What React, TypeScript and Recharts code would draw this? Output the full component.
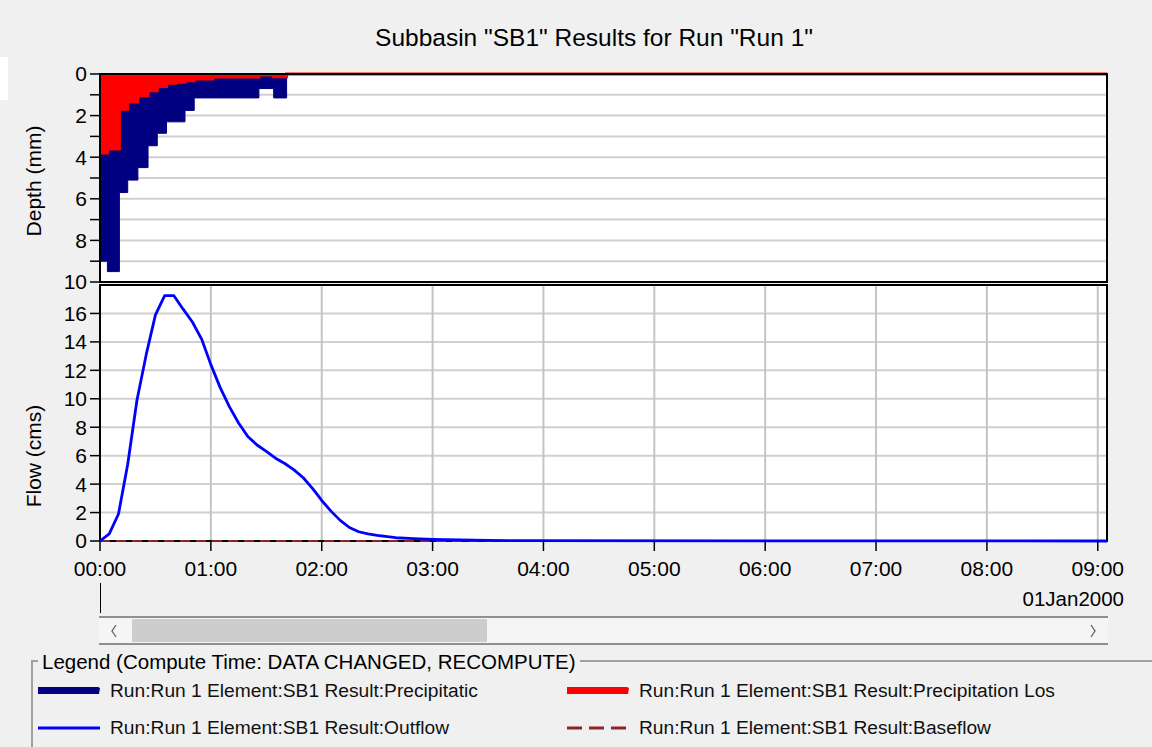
import React from "react";
import {
  ComposedChart,
  Area,
  Line,
  XAxis,
  YAxis,
  CartesianGrid,
  ReferenceArea,
} from "recharts";

// time in minutes from 00:00, 01Jan2000
const precipStart = [0, 4, 10.5, 15, 20.5, 26, 31, 36, 46, 51, 86, 94, 101, 545];
const precipDepth = [9.0, 9.5, 5.7, 5.1, 4.5, 3.45, 2.85, 2.3, 1.75, 1.15, 0.7, 1.15, 0, 0];

const lossStart = [0, 4, 10.5, 15, 20.5, 26, 31, 36, 41, 46, 51, 61, 86, 94, 101, 545];
const lossDepth = [3.8, 3.6, 1.7, 1.35, 1.05, 0.8, 0.6, 0.45, 0.4, 0.32, 0.24, 0.15, 0.05, 0.13, 0, 0];

const outflowTime = [
  0, 5, 10, 15, 20, 25, 30, 35, 40, 45, 50, 55, 60, 65, 70, 75, 80, 85, 90, 95, 100,
  105, 110, 115, 120, 125, 130, 135, 140, 145, 150, 160, 170, 180, 195, 210, 225, 545,
];
const outflowCms = [
  0, 0.5, 1.9, 5.4, 9.9, 13.1, 15.9, 17.25, 17.25, 16.3, 15.4, 14.2, 12.4, 10.8, 9.45,
  8.3, 7.35, 6.75, 6.3, 5.82, 5.45, 5.0, 4.45, 3.7, 2.85, 2.1, 1.45, 0.95, 0.65, 0.5,
  0.4, 0.23, 0.17, 0.12, 0.08, 0.05, 0.02, 0,
];

const baseflowTime = [0, 545];
const baseflowCms = [0, 0];

const hourTicks = [0, 60, 120, 180, 240, 300, 360, 420, 480, 540];
const depthTicks = [0, 1, 2, 3, 4, 5, 6, 7, 8, 9, 10];
const flowTicks = [0, 2, 4, 6, 8, 10, 12, 14, 16];

const legendItems = [
  { name: "Run:Run 1 Element:SB1 Result:Precipitatic", color: "#000080", kind: "bar" },
  { name: "Run:Run 1 Element:SB1 Result:Precipitation Los", color: "#FF0000", kind: "bar" },
  { name: "Run:Run 1 Element:SB1 Result:Outflow", color: "#0000FF", kind: "line" },
  { name: "Run:Run 1 Element:SB1 Result:Baseflow", color: "#8B2525", kind: "dash" },
];

const X_MAX = 545;
const FONT = "'Liberation Sans', Arial, sans-serif";

// value of a step series at time t
const stepAt = (starts: number[], vals: number[], t: number) => {
  let v = 0;
  for (let i = 0; i < starts.length; i++) if (starts[i] <= t) v = vals[i];
  return v;
};

const depthTimes = Array.from(new Set([...precipStart, ...lossStart])).sort((a, b) => a - b);
const depthRows = depthTimes.map((t) => ({
  t,
  precip: stepAt(precipStart, precipDepth, t),
  loss: stepAt(lossStart, lossDepth, t),
}));

const flowTimes = Array.from(new Set([...outflowTime, ...baseflowTime])).sort((a, b) => a - b);
const flowRows = flowTimes.map((t) => {
  const oi = outflowTime.indexOf(t);
  const bi = baseflowTime.indexOf(t);
  return {
    t,
    outflow: oi >= 0 ? outflowCms[oi] : undefined,
    baseflow: bi >= 0 ? baseflowCms[bi] : undefined,
  };
});

const fmtHour = (m: number) => `${String(Math.round(m / 60)).padStart(2, "0")}:00`;

const tickStyle = { fontSize: 21, fill: "#000", fontFamily: FONT };

const Swatch = ({ kind, color }: { kind: string; color: string }) => (
  <svg width={62} height={12} style={{ display: "block" }}>
    {kind === "bar" && <polygon points="0,2 60,2 62,3 61,9 0,9" fill={color} />}
    {kind === "line" && <line x1={0} x2={62} y1={6} y2={6} stroke={color} strokeWidth={3} />}
    {kind === "dash" && (
      <line x1={0} x2={62} y1={6} y2={6} stroke={color} strokeWidth={3} strokeDasharray="15 7" />
    )}
  </svg>
);

const Chevron = ({ dir }: { dir: "l" | "r" }) => (
  <svg width={8} height={14} style={{ display: "block" }}>
    <polyline
      points={dir === "l" ? "6,1 2,7 6,13" : "2,1 6,7 2,13"}
      fill="none"
      stroke="#606060"
      strokeWidth={1.3}
    />
  </svg>
);

export default function App() {
  return (
    <div
      style={{
        position: "absolute",
        left: 0,
        top: 0,
        width: 1152,
        height: 747,
        background: "#F0F0F0",
        fontFamily: FONT,
        overflow: "hidden",
      }}
    >
      <div style={{ position: "absolute", left: 0, top: 57, width: 8, height: 43, background: "#fff" }} />

      <div
        style={{
          position: "absolute",
          left: 0,
          width: 1188,
          top: 24,
          textAlign: "center",
          fontSize: 24.5,
          color: "#000",
        }}
      >
        Subbasin "SB1" Results for Run "Run 1"
      </div>

      {/* precipitation panel */}
      <div style={{ position: "absolute", left: 0, top: 0 }}>
        <ComposedChart
          width={1152}
          height={300}
          data={depthRows}
          margin={{ top: 74, right: 45, bottom: 0, left: 0 }}
        >
          <CartesianGrid vertical={false} stroke="#D0D0D0" strokeWidth={2} fill="#fff" fillOpacity={1} />
          <CartesianGrid horizontal={false} stroke="#C4C4C4" strokeWidth={2} />
          <XAxis
            type="number"
            dataKey="t"
            domain={[0, X_MAX]}
            ticks={hourTicks}
            height={18}
            tick={false}
            tickLine={false}
            axisLine={false}
            allowDataOverflow
          />
          <YAxis
            type="number"
            domain={[0, 10]}
            reversed
            ticks={depthTicks}
            interval={0}
            width={100}
            tickSize={10}
            tickMargin={3}
            tick={tickStyle}
            tickLine={{ stroke: "#000", strokeWidth: 1.5 }}
            axisLine={false}
            tickFormatter={(v: number) => (v % 2 === 0 ? String(v) : "")}
          />
          <Area
            type="stepAfter"
            dataKey="precip"
            stroke="#000080"
            strokeWidth={1}
            fill="#000080"
            fillOpacity={1}
            isAnimationActive={false}
          />
          <Area
            type="stepAfter"
            dataKey="loss"
            stroke="#FF0000"
            strokeWidth={3}
            fill="#FF0000"
            fillOpacity={1}
            isAnimationActive={false}
          />
          <ReferenceArea x1={0} x2={X_MAX} y1={0} y2={10} fill="none" stroke="#000" strokeWidth={2} />
        </ComposedChart>
      </div>

      {/* flow panel */}
      <div style={{ position: "absolute", left: 0, top: 0 }}>
        <ComposedChart
          width={1152}
          height={600}
          data={flowRows}
          margin={{ top: 285, right: 45, bottom: 0, left: 0 }}
        >
          <CartesianGrid vertical={false} stroke="#D0D0D0" strokeWidth={2} fill="#fff" fillOpacity={1} />
          <CartesianGrid horizontal={false} stroke="#C4C4C4" strokeWidth={2} />
          <XAxis
            type="number"
            dataKey="t"
            domain={[0, X_MAX]}
            ticks={hourTicks}
            interval={0}
            height={59}
            tickSize={10}
            tickMargin={10}
            tick={tickStyle}
            tickLine={{ stroke: "#000", strokeWidth: 1.5 }}
            axisLine={false}
            tickFormatter={fmtHour}
            allowDataOverflow
          />
          <YAxis
            type="number"
            domain={[0, 18]}
            ticks={flowTicks}
            interval={0}
            width={100}
            tickSize={10}
            tickMargin={3}
            tick={tickStyle}
            tickLine={{ stroke: "#000", strokeWidth: 1.5 }}
            axisLine={false}
          />
          <ReferenceArea x1={0} x2={X_MAX} y1={0} y2={18} fill="none" stroke="#000" strokeWidth={2} />
          <Line
            type="linear"
            dataKey="baseflow"
            stroke="#8B2525"
            strokeWidth={2}
            strokeDasharray="10 6"
            dot={false}
            connectNulls
            isAnimationActive={false}
          />
          <Line
            type="linear"
            dataKey="outflow"
            stroke="#0000FF"
            strokeWidth={2.8}
            strokeLinejoin="round"
            dot={false}
            connectNulls
            isAnimationActive={false}
          />
        </ComposedChart>
      </div>

      {/* axis titles */}
      <div
        style={{
          position: "absolute",
          left: 34,
          top: 181,
          transform: "translate(-50%, -50%) rotate(-90deg)",
          whiteSpace: "nowrap",
          fontSize: 21,
        }}
      >
        Depth (mm)
      </div>
      <div
        style={{
          position: "absolute",
          left: 34,
          top: 456,
          transform: "translate(-50%, -50%) rotate(-90deg)",
          whiteSpace: "nowrap",
          fontSize: 21,
        }}
      >
        Flow (cms)
      </div>

      {/* date line */}
      <div style={{ position: "absolute", left: 100, top: 583, width: 1, height: 30, background: "#000" }} />
      <div style={{ position: "absolute", right: 28, top: 587, fontSize: 20.5 }}>01Jan2000</div>

      {/* scrollbar */}
      <div
        style={{
          position: "absolute",
          left: 99,
          top: 616,
          width: 1009,
          height: 25,
          borderTop: "2px solid #8F8F8F",
          borderBottom: "2px solid #8F8F8F",
          background: "#F5F5F5",
        }}
      >
        <div style={{ position: "absolute", left: 33, top: 1, width: 355, height: 23, background: "#CDCDCD" }} />
        <div style={{ position: "absolute", left: 11, top: 6 }}>
          <Chevron dir="l" />
        </div>
        <div style={{ position: "absolute", right: 11, top: 6 }}>
          <Chevron dir="r" />
        </div>
      </div>

      {/* legend group box */}
      <div
        style={{
          position: "absolute",
          left: 31,
          top: 660,
          width: 1130,
          height: 100,
          borderLeft: "2px solid #A0A0A0",
          borderTop: "2px solid #A0A0A0",
        }}
      />
      <div
        style={{
          position: "absolute",
          left: 38,
          top: 650,
          padding: "0 4px",
          background: "#F0F0F0",
          fontSize: 20.5,
          whiteSpace: "nowrap",
        }}
      >
        Legend (Compute Time: DATA CHANGED, RECOMPUTE)
      </div>
      {legendItems.map((it, i) => (
        <div
          key={it.name}
          style={{
            position: "absolute",
            left: i % 2 === 0 ? 38 : 567,
            top: i < 2 ? 680 : 717,
            display: "flex",
            alignItems: "center",
            gap: 10,
            fontSize: 19.2,
            whiteSpace: "nowrap",
            color: "#111",
          }}
        >
          <Swatch kind={it.kind} color={it.color} />
          <span>{it.name}</span>
        </div>
      ))}
    </div>
  );
}
